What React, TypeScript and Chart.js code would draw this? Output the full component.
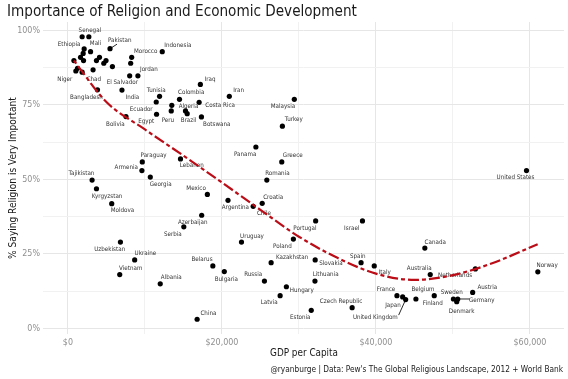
import React, { useEffect, useRef } from 'react';
import { Chart, registerables } from 'chart.js';

Chart.register(...registerables);

// ---------------- DATA ----------------
const countries = [
  'Senegal', '', 'Ethiopia', 'Mali', '', '', '', '', '', '', '', '', 'Pakistan', '', 'Niger', '', 'Chad', '',
  'Bangladesh', 'Morocco', '', 'Indonesia', 'El Salvador', 'Jordan', 'India', 'Iraq', 'Iran', 'Tunisia',
  'Colombia', 'Ecuador', '', 'Costa Rica', 'Peru', 'Egypt', 'Algeria', 'Brazil', 'Botswana', 'Bolivia',
  'Malaysia', 'Turkey', 'Panama', 'Greece', 'Romania', 'Paraguay', 'Armenia', 'Georgia', 'Lebanon',
  'Tajikistan', 'Kyrgyzstan', 'Moldova', 'Mexico', 'Argentina', 'Croatia', 'Chile', 'Azerbaijan', 'Serbia',
  'Portugal', 'Israel', 'Poland', 'Uruguay', 'Uzbekistan', 'Ukraine', 'Vietnam', 'Albania', 'Belarus',
  'Bulgaria', 'China', 'Kazakhstan', 'Slovakia', 'Spain', 'Italy', 'Canada', 'Russia', 'Lithuania',
  'Hungary', 'Latvia', 'Estonia', 'Czech Republic', 'France', 'Japan', 'United Kingdom', 'Belgium',
  'Finland', 'Australia', 'Netherlands', 'Norway', 'Sweden', 'Germany', 'Denmark', 'Austria', 'United States',
];

const gdpPerCapita = [
  2720, 1850, 2110, 2940, 1980, 1640, 2030, 4100, 3710, 4950, 4660, 5780, 5470, 780, 1030, 1250, 1850, 3270,
  3840, 8280, 8150, 12250, 8020, 9090, 7020, 17200, 20960, 11900,
  14490, 11470, 13490, 17040, 13420, 11510, 15270, 15490, 17340, 7540,
  29400, 27850, 24410, 27770, 25830, 9660, 9610, 10700, 14620,
  3140, 3710, 5690, 18110, 20790, 25230, 24060, 17370, 15050,
  32170, 38250, 29280, 22540, 6820, 8670, 6730, 11990, 18820,
  20310, 16780, 26390, 32110, 38070, 39780, 46350, 25520, 32080,
  28370, 27560, 31600, 36910, 42730, 43470, 43860, 45190,
  47570, 47050, 52910, 61020, 50060, 50620, 50490, 52560, 59550,
];

const religionVeryImportant = [
  97.9, 97.9, 93.8, 92.9, 92.3, 91.0, 89.9, 91.0, 89.9, 89.9, 89.0, 87.9, 93.9, 89.9, 86.4, 87.3, 86.0, 86.8,
  80.1, 91.0, 89.0, 92.9, 84.8, 84.8, 80.0, 81.9, 77.9, 77.9,
  76.9, 76.0, 74.9, 75.9, 73.0, 71.9, 73.0, 72.1, 71.0, 71.1,
  76.9, 67.9, 60.9, 55.9, 49.8, 55.9, 53.0, 50.8, 56.9,
  49.8, 46.9, 41.9, 45.0, 43.0, 42.0, 41.0, 38.0, 34.1,
  36.1, 36.1, 30.0, 29.0, 29.0, 23.0, 18.1, 15.0, 21.0,
  19.1, 3.1, 22.1, 23.0, 22.1, 21.0, 27.0, 15.9, 15.9,
  14.0, 11.0, 6.1, 7.0, 11.0, 10.6, 9.7, 9.9,
  11.0, 18.1, 20.0, 19.0, 9.9, 9.9, 9.0, 12.1, 53.0,
];

// smoothed trend
const trendGdp = [780, 5000, 10000, 15000, 20000, 25000, 30000, 35000, 40000, 45000, 50000, 55000, 61000];
const trendPct = [89.9, 76.0, 66.8, 58.0, 49.0, 39.8, 30.8, 23.7, 18.4, 16.3, 17.9, 21.8, 28.3];

const xTickValues = [0, 10000, 20000, 30000, 40000, 50000, 60000];
const yTickValues = [0, 12.5, 25, 37.5, 50, 62.5, 75, 87.5, 100];

const titleText = 'Importance of Religion and Economic Development';
const xTitleText = 'GDP per Capita';
const yTitleText = '% Saying Religion is Very Important';
const captionText = "@ryanburge | Data: Pew's The Global Religious Landscape, 2012 + World Bank";

// ---------------- LABEL PLACEMENT (pixel offsets of label centre from point) ----------------
const labelOffsets: Record<string, number[]> = {
  Senegal: [1, -6], Ethiopia: [-15, -5], Mali: [5, -8], Pakistan: [9.7, -8.7, 7, -4.5],
  Morocco: [14, -5.6], Indonesia: [15.6, -6.4], Niger: [-11, 8.3], Chad: [11.7, 7],
  Jordan: [11, -6.4], 'El Salvador': [-7.3, 6.3], Bangladesh: [-11, 7.6], India: [10.4, 7.3],
  Iraq: [9.7, -5], Iran: [9.3, -5.6], Tunisia: [-3.3, -6.3], Colombia: [11.7, -6.6],
  Algeria: [3, -4.3], 'Costa Rica': [21, 2.7], Ecuador: [-15, 7.3], Egypt: [-10.3, 7.4],
  Peru: [-3.4, 9.7], Brazil: [1.3, 7], Botswana: [15.3, 7], Bolivia: [-10.6, 7.6],
  Malaysia: [-11.3, 7], Turkey: [11.4, -6.3], Panama: [-10.7, 7.3], Greece: [11, -6.3],
  Romania: [10.6, -6.7], Paraguay: [11.3, -6.3], Armenia: [-15.6, -3], Georgia: [10.3, 7],
  Lebanon: [11.3, 6.7], Tajikistan: [-10.6, -6.7], Kyrgyzstan: [10.6, 7.3], Moldova: [10.7, 6.3],
  Mexico: [-11.3, -5.8], Argentina: [7.3, 7], Croatia: [11, -6.3], Chile: [10.7, 7],
  Azerbaijan: [-9, 6.7], Serbia: [-11, 7.3], Portugal: [-10.7, 7.3], Israel: [-10.7, 7.3],
  Poland: [-11, 7], Uruguay: [10.5, -5.5], Uzbekistan: [-10.7, 7], Ukraine: [10.7, -6.3],
  Vietnam: [11, -6], Albania: [11, -6], Belarus: [-10.8, -6.3], Bulgaria: [2, 7.6],
  China: [11.3, -6], Kazakhstan: [21, -5], Slovakia: [15.8, 3.3], Spain: [-3.3, -6],
  Italy: [10.5, 6.3], Canada: [10.4, -6], Russia: [-11.3, -6.7], Lithuania: [10.7, -6.7],
  Hungary: [15.4, 3.3], Latvia: [-11, 6.6], Estonia: [-11, 7.4], 'Czech Republic': [-11, -6.7],
  France: [-11, -6.4], Japan: [-9.7, 8], 'United Kingdom': [-30.3, 17.8, -7, 15.5],
  Belgium: [7, -9.3], Finland: [-1.4, 7.6], Australia: [-11, -6.4], Netherlands: [-20.3, 6.7],
  Norway: [9.3, -6.3], Sweden: [-1.7, -6.7], Germany: [24, 1, 12, 0], Denmark: [5, 9.3],
  Austria: [14.7, -5], 'United States': [-11, 7],
};

const FONT = "'Liberation Sans Narrow', 'DejaVu Sans Condensed', 'Roboto Condensed', Roboto, sans-serif";

function fitSize(text: string, target: number, base = 10): number {
  const ctx = document.createElement('canvas').getContext('2d')!;
  ctx.font = `${base}px ${FONT}`;
  const w = ctx.measureText(text).width || 1;
  return (base * target) / w;
}

export default function App() {
  const ref = useRef<HTMLCanvasElement | null>(null);

  useEffect(() => {
    if (!ref.current) return;
    const titleSize = fitSize(titleText, 350);
    const xTitleSize = fitSize(xTitleText, 68);
    const yTitleSize = fitSize(yTitleText, 162);
    const captionSize = fitSize(captionText, 293);
    const tickSize = fitSize('$20,000', 33);
    const labelSize = fitSize('United Kingdom', 45);

    const decorations = {
      id: 'decorations',
      beforeDatasetsDraw(chart: any) {
        const ctx = chart.ctx;
        const meta = chart.getDatasetMeta(0);
        ctx.save();
        ctx.font = `${labelSize}px ${FONT}`;
        ctx.fillStyle = '#333333';
        ctx.textAlign = 'center';
        ctx.textBaseline = 'middle';
        countries.forEach((name, i) => {
          if (!name) return;
          const off = labelOffsets[name];
          if (!off) return;
          const el = meta.data[i];
          const px = el.x, py = el.y;
          ctx.fillText(name, px + off[0], py + off[1]);
          if (off.length > 2) {
            ctx.beginPath();
            ctx.strokeStyle = '#111111';
            ctx.lineWidth = 0.9;
            ctx.moveTo(px, py);
            ctx.lineTo(px + off[2], py + off[3]);
            ctx.stroke();
          }
        });
        ctx.restore();
      },
      afterDraw(chart: any) {
        const ctx = chart.ctx;
        const area = chart.chartArea;
        ctx.save();
        ctx.fillStyle = '#1a1a1a';
        ctx.font = `${titleSize}px ${FONT}`;
        ctx.textAlign = 'left';
        ctx.textBaseline = 'alphabetic';
        ctx.fillText(titleText, 7, 15.5);

        ctx.font = `${xTitleSize}px ${FONT}`;
        ctx.textAlign = 'center';
        ctx.textBaseline = 'middle';
        ctx.fillText(xTitleText, 304, 353.5);

        ctx.font = `${captionSize}px ${FONT}`;
        ctx.textAlign = 'right';
        ctx.fillText(captionText, 563, 369.5);

        ctx.translate(13, (area.top + area.bottom) / 2);
        ctx.rotate(-Math.PI / 2);
        ctx.font = `${yTitleSize}px ${FONT}`;
        ctx.textAlign = 'center';
        ctx.fillText(yTitleText, 0, 0);
        ctx.restore();
      },
    };

    const gridColor = (major: number) => (c: any) =>
      c.tick && Math.abs(c.tick.value % major) > 1e-6 ? '#f1f1f1' : '#e6e6e6';

    const chart = new Chart(ref.current, {
      type: 'scatter',
      data: {
        datasets: [
          {
            type: 'scatter',
            data: countries.map((_, i) => ({ x: gdpPerCapita[i], y: religionVeryImportant[i] })),
            backgroundColor: '#000000',
            borderWidth: 0,
            pointRadius: 2.6,
            order: 2,
          } as any,
          {
            type: 'line',
            data: trendGdp.map((x, i) => ({ x, y: trendPct[i] })),
            borderColor: '#bb0d17',
            borderWidth: 2.2,
            borderDash: [4, 3, 11, 3],
            pointRadius: 0,
            fill: false,
            cubicInterpolationMode: 'monotone',
            order: 1,
          } as any,
        ],
      },
      options: {
        animation: false,
        responsive: false,
        maintainAspectRatio: false,
        events: [],
        layout: { padding: { top: 22, right: 2, left: 0, bottom: 0 } },
        plugins: {
          legend: { display: false },
          tooltip: { enabled: false },
          title: { display: false },
        },
        scales: {
          x: {
            type: 'linear',
            min: -3234,
            max: 64420,
            afterBuildTicks: (s: any) => {
              s.ticks = xTickValues.map((v) => ({ value: v }));
            },
            afterFit: (s: any) => {
              s.height = 45;
            },
            border: { display: false },
            grid: { color: gridColor(20000), lineWidth: 1, drawTicks: false },
            ticks: {
              autoSkip: false,
              maxRotation: 0,
              minRotation: 0,
              padding: 3,
              color: '#8f8f8f',
              font: { family: FONT, size: tickSize },
              callback: (v: any) => (Number(v) % 20000 === 0 ? '$' + Number(v).toLocaleString('en-US') : ''),
            },
          },
          y: {
            type: 'linear',
            min: -1.85,
            max: 102.85,
            afterBuildTicks: (s: any) => {
              s.ticks = yTickValues.map((v) => ({ value: v }));
            },
            afterFit: (s: any) => {
              s.width = 43;
            },
            border: { display: false },
            grid: { color: gridColor(25), lineWidth: 1, drawTicks: false },
            ticks: {
              autoSkip: false,
              padding: 3,
              color: '#8f8f8f',
              font: { family: FONT, size: tickSize },
              callback: (v: any) => (Number(v) % 25 === 0 ? Number(v) + '%' : ''),
            },
          },
        },
      },
      plugins: [decorations],
    });

    return () => chart.destroy();
  }, []);

  return (
    <div style={{ position: 'fixed', left: 0, top: 0, width: 568, height: 379, background: '#ffffff' }}>
      <canvas ref={ref} width={568} height={379} style={{ display: 'block', width: 568, height: 379 }} />
    </div>
  );
}
